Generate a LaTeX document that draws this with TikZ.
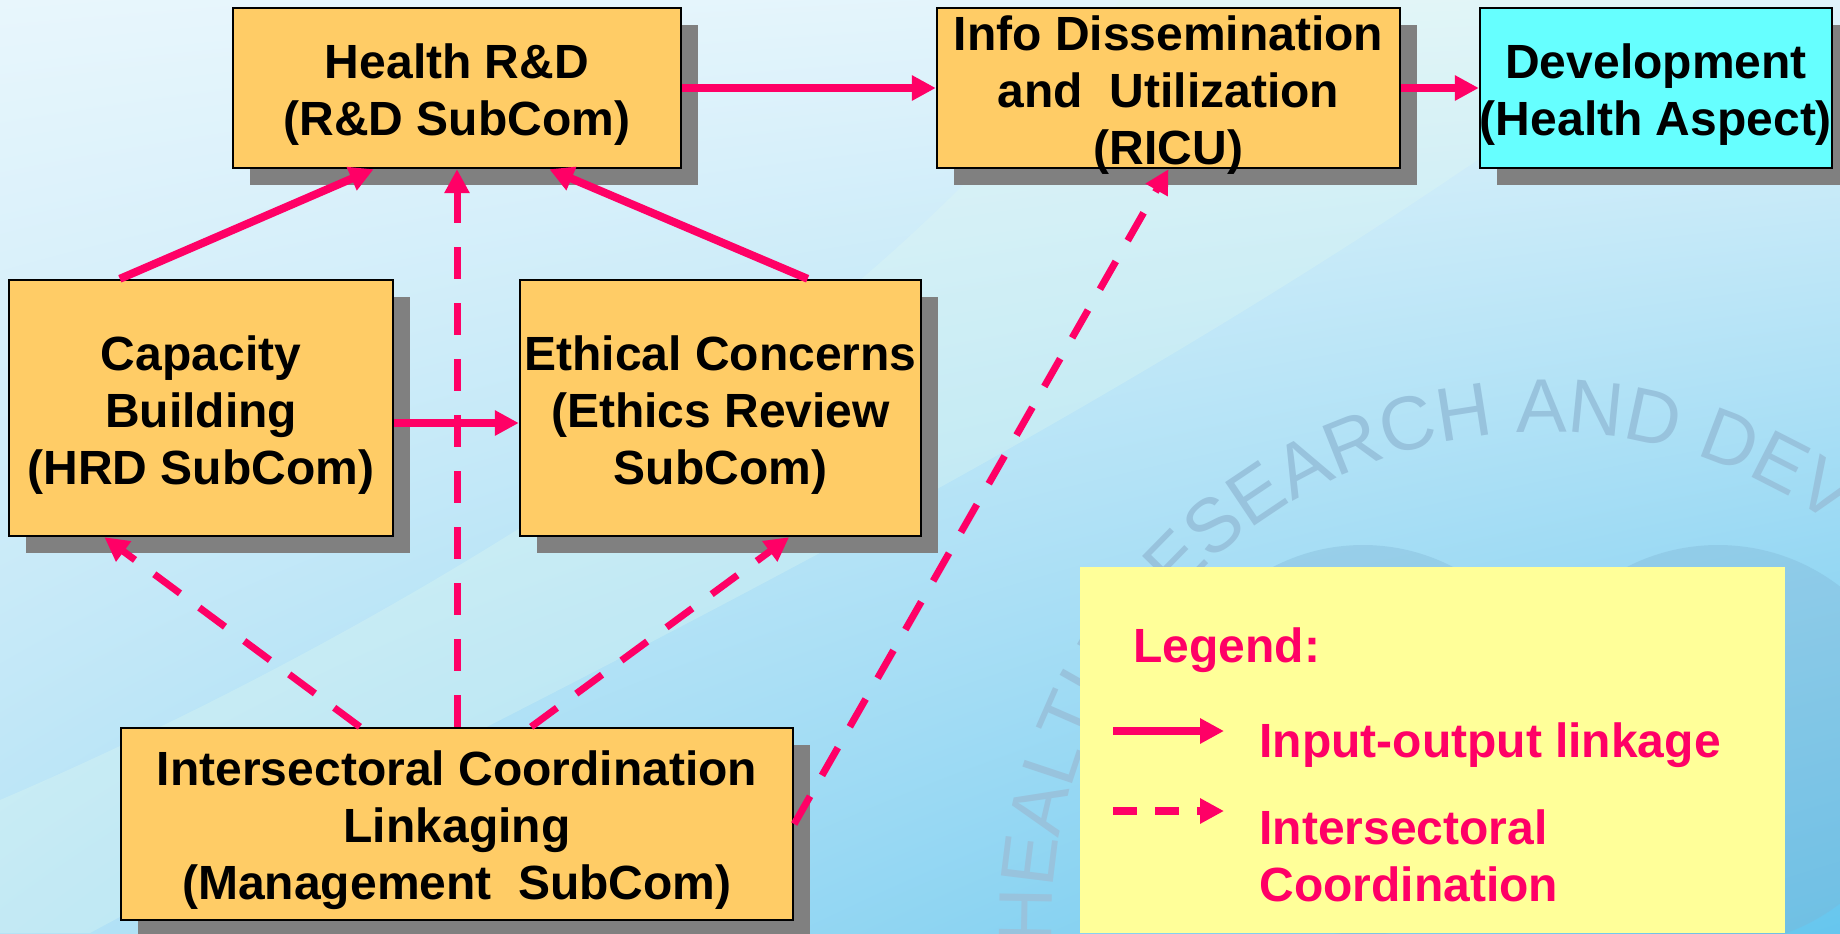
\documentclass[tikz,border=0pt]{standalone}
\usepackage{fontspec}
\setmainfont{Liberation Sans}
\usetikzlibrary{arrows.meta,shadows,calc,shadings,decorations.text}
\definecolor{boxfill}{HTML}{FFCC66}
\definecolor{devfill}{HTML}{66FFFF}
\definecolor{pinkc}{HTML}{FF0066}
\definecolor{legfill}{HTML}{FFFF99}
\definecolor{shadowgray}{HTML}{808080}
\definecolor{bgul}{HTML}{E8F6FC}
\definecolor{bgur}{HTML}{E0F3FB}
\definecolor{bgll}{HTML}{B6E3F6}
\definecolor{bglr}{HTML}{66C6EE}
\definecolor{wmblue}{HTML}{7FB4D4}
\definecolor{swoosh}{HTML}{E2FAF0}
\begin{document}
\begin{tikzpicture}[x=0.5pt,y=-0.5pt,
  box/.style={draw=black, line width=1.2pt, fill=boxfill, inner sep=0pt,
    drop shadow={shadow xshift=8.5pt, shadow yshift=-8.5pt, fill=shadowgray, opacity=1}},
  boxtext/.style={align=center, inner sep=0pt, yshift=-3.3pt,
    font=\bfseries\fontsize{24}{28.5}\selectfont},
  bt/.style={label={[boxtext]center:{#1}}},
  io/.style={draw=pinkc, line width=4pt, -{Triangle[length=12pt,width=12pt]}},
  ic/.style={draw=pinkc, line width=3.5pt, dash pattern=on 16pt off 12pt, -{Triangle[length=12pt,width=12pt]}},
  icleg/.style={draw=pinkc, line width=3.7pt, dash pattern=on 12pt off 9pt, -{Triangle[length=12pt,width=12pt]}},
  legtext/.style={text=pinkc, font=\bfseries\fontsize{24}{28.5}\selectfont, anchor=west, align=left, inner sep=0pt}
]
\useasboundingbox (0,0) rectangle (1840,933);
\begin{scope}
\clip (0,0) rectangle (1840,933);
\shade[upper left=bgul, upper right=bgur, lower left=bgll, lower right=bglr] (0,0) rectangle (1840,933);
% faint background swoosh
\fill[swoosh, opacity=0.3] (1120,0) .. controls (900,320) and (420,620) .. (0,800) -- (0,933) -- (90,933) .. controls (520,700) and (1150,420) .. (1700,0) -- cycle;
% faint watermark logo
\fill[wmblue, opacity=0.35] (1363,740) circle[radius=195];
\fill[wmblue, opacity=0.35] (1718,745) circle[radius=200];
\path[decorate, decoration={text along path, text align=left,
  text={|\fontsize{38}{38}\selectfont\color{wmblue!80}|HEALTH RESEARCH AND DEV}}]
  (1545,925) ++(177.8:493) arc[start angle=177.8, end angle=330, radius=493];
\end{scope}

% boxes
\node[box, minimum width=224pt, minimum height=80pt, bt={Health R\&D\\(R\&D SubCom)}] (hrd) at (457,88) {};
\node[box, minimum width=231.5pt, minimum height=80pt, bt={Info Dissemination\\and\ \ Utilization\\(RICU)}] (info) at (1168.5,88) {};
\node[box, fill=devfill, minimum width=176pt, minimum height=80pt, bt={Development\\(Health Aspect)}] (dev) at (1656,88) {};
\node[box, minimum width=192pt, minimum height=128pt, bt={Capacity\\Building\\(HRD SubCom)}] (cap) at (201,408) {};
\node[box, minimum width=200.5pt, minimum height=128pt, bt={Ethical Concerns\\(Ethics Review\\SubCom)}] (eth) at (720.5,408) {};
\node[box, minimum width=336pt, minimum height=96pt, bt={Intersectoral Coordination\\Linkaging\\(Management\ \ SubCom)}] (mgt) at (457,824) {};

% legend
\node[fill=legfill, minimum width=352.5pt, minimum height=183pt, inner sep=0pt, anchor=north west] (legend) at (1080,567) {};
\node[legtext] (legtitle) at (1133,650) {Legend:};
\node[legtext] (l1) at (1259,745) {Input-output linkage};
\node[legtext] (l2) at (1259,856) {Intersectoral\\Coordination};
\coordinate (ls1) at (1113,731);
\coordinate (le1) at (1224,731);
\coordinate (ls2) at (1113,811);
\coordinate (le2) at (1224,811);
\draw[io] (ls1) -- (le1);
\draw[icleg] (ls2) -- (le2);

% input-output linkages
\draw[io] (hrd.east) -- (info.west);
\draw[io] (info.east) -- (dev.west);
\draw[io] ($(cap.east)+(0,15)$) -- ($(eth.west)+(0,15)$);
\draw[io] ($(cap.north west)!0.29!(cap.north east)$) -- ($(hrd.south west)!0.315!(hrd.south east)$);
\draw[io] ($(eth.north west)!0.716!(eth.north east)$) -- ($(hrd.south west)!0.705!(hrd.south east)$);

% intersectoral coordination
\draw[ic] (mgt.north) -- (hrd.south);
\draw[ic] ($(mgt.north west)!0.356!(mgt.north east)$) -- ($(cap.south west)!0.25!(cap.south east)$);
\draw[ic] ($(mgt.north west)!0.61!(mgt.north east)$) -- ($(eth.south west)!0.67!(eth.south east)$);
\draw[ic] (mgt.east) -- (info.south);
\end{tikzpicture}
\end{document}
